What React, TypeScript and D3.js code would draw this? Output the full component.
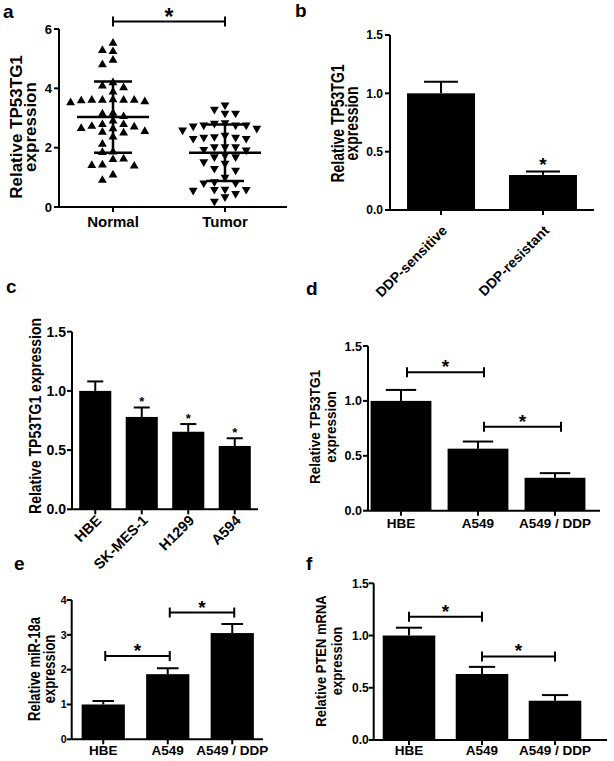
import * as d3 from "d3";

const FONT = "'Liberation Sans', Arial, Helvetica, sans-serif";

// ---- panel a : dot plot ----
const aGroups = ["Normal", "Tumor"];
const aNormal = [
  5.52, 5.28, 5.24, 4.95, 4.8, 4.19, 4.08, 4.02, 3.88, 3.62, 3.6, 3.6, 3.6, 3.6, 3.58, 3.55, 3.52,
  3.16, 3.14, 3.05, 2.9, 2.78, 2.78, 2.72, 2.7, 2.65, 2.64, 2.55, 2.52, 2.5, 2.36, 2.12, 1.86, 1.84,
  1.62, 1.6, 1.42, 1.4, 1.38, 1.08, 0.9,
];
const aTumor = [
  3.44, 3.29, 3.16, 3.16, 2.84, 2.82, 2.76, 2.76, 2.76, 2.73, 2.65, 2.59, 2.42, 2.37, 2.35, 2.35,
  2.31, 2.31, 2.03, 2.03, 2.03, 1.94, 1.92, 1.75, 1.69, 1.69, 1.52, 1.47, 1.3, 1.24, 1.0, 0.85, 0.81,
  0.81, 0.6, 0.59, 0.59, 0.56, 0.45, 0.34, 0.19,
];
const aMeans = [3.03, 1.83];
const aSDs = [1.2, 0.95];
const aTicks = [0, 2, 4, 6];
const aBracketLevel = 6.25;

// ---- panel b ----
const bCats = ["DDP-sensitive", "DDP-resistant"];
const bMeans = [1.0, 0.3];
const bErrs = [0.1, 0.03];
const bStars = [false, true];

// ---- panel c ----
const cCats = ["HBE", "SK-MES-1", "H1299", "A594"];
const cMeans = [1.0, 0.78, 0.655, 0.535];
const cErrs = [0.08, 0.08, 0.065, 0.065];
const cStars = [false, true, true, true];

// ---- panel d ----
const dCats = ["HBE", "A549", "A549 / DDP"];
const dMeans = [1.0, 0.565, 0.3];
const dErrs = [0.1, 0.065, 0.042];
const dPairs = [[0, 1], [1, 2]];
const dLevels = [1.26, 0.765];

// ---- panel e ----
const eCats = ["HBE", "A549", "A549 / DDP"];
const eMeans = [1.0, 1.87, 3.05];
const eErrs = [0.1, 0.17, 0.26];
const ePairs = [[0, 1], [1, 2]];
const eLevels = [2.39, 3.64];

// ---- panel f ----
const fCats = ["HBE", "A549", "A549 / DDP"];
const fMeans = [1.0, 0.632, 0.376];
const fErrs = [0.075, 0.068, 0.054];
const fPairs = [[0, 1], [1, 2]];
const fLevels = [1.18, 0.8];

const ticks15 = [0, 0.5, 1.0, 1.5];
const ticks4 = [0, 1, 2, 3, 4];

// rotated axis title; k stretches the glyph height (the source text looks wide)
function YLabel({ lines, bases, cy, size, k = 1 }: any) {
  return (
    <g>
      {lines.map((t: string, i: number) => (
        <text key={i} transform={`translate(${bases[i]},${cy}) rotate(-90) scale(1,${k})`} textAnchor="middle" fontSize={size}>
          {t}
        </text>
      ))}
    </g>
  );
}

function swarm(values: number[], cx: number, y: (v: number) => number, colW: number, minDy: number) {
  const placed: { col: number; py: number }[] = [];
  const order = values.map((_, i) => i).sort((a, b) => values[b] - values[a]);
  const out: { x: number; y: number }[] = new Array(values.length);
  for (const i of order) {
    const py = y(values[i]);
    for (let k = 0; k < 30; k++) {
      const col = k === 0 ? 0 : k % 2 ? -Math.ceil(k / 2) : Math.ceil(k / 2);
      if (!placed.some((p) => p.col === col && Math.abs(p.py - py) < minDy)) {
        placed.push({ col, py });
        out[i] = { x: cx + col * colW, y: py };
        break;
      }
    }
  }
  return out;
}

function ScatterPanel() {
  const axisX = 59, xEnd = 287, top = 29, bottom = 207;
  const y = d3.scaleLinear().domain([0, 6]).range([bottom, top]);
  const x = d3.scalePoint().domain(aGroups).range([57, 281]).padding(0.5);
  const tri = d3.symbol().type(d3.symbolTriangle).size(34)()!;
  const sets = [aNormal, aTumor];
  const by = y(aBracketLevel);
  const x0 = x(aGroups[0])!, x1 = x(aGroups[1])!;
  return (
    <g>
      <text x={3} y={18} fontSize={19}>a</text>
      <YLabel lines={["Relative TP53TG1", "expression"]} bases={[22, 36]} cy={127} size={17} />
      <line x1={axisX} x2={axisX} y1={bottom} y2={top} stroke="#000" strokeWidth={2} />
      <line x1={axisX} x2={xEnd} y1={bottom} y2={bottom} stroke="#000" strokeWidth={2} />
      {aTicks.map((t) => (
        <g key={t}>
          <line x1={axisX - 5} x2={axisX} y1={y(t)} y2={y(t)} stroke="#000" strokeWidth={2} />
          <text x={axisX - 7} y={y(t)} dy="0.36em" textAnchor="end" fontSize={13}>{t}</text>
        </g>
      ))}
      {aGroups.map((g) => (
        <g key={g}>
          <line x1={x(g)} x2={x(g)} y1={bottom} y2={bottom + 5} stroke="#000" strokeWidth={2} />
          <text x={x(g)} y={bottom + 20} textAnchor="middle" fontSize={15}>{g}</text>
        </g>
      ))}
      {sets.map((vals, gi) => {
        const cx = x(aGroups[gi])!;
        const pts = swarm(vals, cx, y, 10.6, 7.5);
        const m = aMeans[gi], s = aSDs[gi];
        return (
          <g key={gi}>
            {pts.map((p, i) => (
              <path key={i} d={tri} transform={`translate(${p.x},${p.y})${gi === 1 ? " rotate(180)" : ""}`} fill="#000" />
            ))}
            <line x1={cx - 36} x2={cx + 36} y1={y(m)} y2={y(m)} stroke="#000" strokeWidth={2.5} />
            <line x1={cx} x2={cx} y1={y(m - s)} y2={y(m + s)} stroke="#000" strokeWidth={2.5} />
            <line x1={cx - 19} x2={cx + 19} y1={y(m + s)} y2={y(m + s)} stroke="#000" strokeWidth={2.5} />
            <line x1={cx - 19} x2={cx + 19} y1={y(m - s)} y2={y(m - s)} stroke="#000" strokeWidth={2.5} />
          </g>
        );
      })}
      <line x1={x0} x2={x1} y1={by} y2={by} stroke="#000" strokeWidth={2} />
      <line x1={x0} x2={x0} y1={by - 5} y2={by + 5} stroke="#000" strokeWidth={2} />
      <line x1={x1} x2={x1} y1={by - 5} y2={by + 5} stroke="#000" strokeWidth={2} />
      <text x={(x0 + x1) / 2} y={by + 3} textAnchor="middle" fontSize={23}>*</text>
    </g>
  );
}

function BarPanel(p: any) {
  const y = d3.scaleLinear().domain([0, p.yMax]).range([p.bottom, p.top]);
  const x = d3.scaleBand<string>().domain(p.cats).range(p.band).paddingInner(p.padIn).paddingOuter(p.padOut);
  const bw = x.bandwidth();
  const cx = (c: string) => x(c)! + bw / 2;
  const fmt = p.fmt ? d3.format(p.fmt) : (v: number) => String(v);
  const cap = bw * 0.25;
  return (
    <g>
      <text x={p.letterX} y={p.letterY} fontSize={19}>{p.letter}</text>
      <YLabel lines={p.yLines} bases={p.yBases} cy={p.yCenter} size={p.ySize} k={p.yK} />
      {p.cats.map((c: string, i: number) => {
        const v = p.means[i], e = p.errs[i];
        return (
          <g key={c}>
            <rect x={x(c)} y={y(v)} width={bw} height={p.bottom - y(v)} fill="#000" />
            <line x1={cx(c)} x2={cx(c)} y1={y(v)} y2={y(v + e)} stroke="#000" strokeWidth={2} />
            <line x1={cx(c) - cap} x2={cx(c) + cap} y1={y(v + e)} y2={y(v + e)} stroke="#000" strokeWidth={2} />
            {p.stars && p.stars[i] && (
              <text x={cx(c)} y={y(v + e) - 1} textAnchor="middle" fontSize={p.starSize}>*</text>
            )}
            <line x1={cx(c)} x2={cx(c)} y1={p.bottom} y2={p.bottom + 5} stroke="#000" strokeWidth={2} />
            {p.rotate ? (
              <text transform={`translate(${cx(c) + p.ldx},${p.bottom + p.ldy}) rotate(-45)`} textAnchor="end" fontSize={p.labelSize}>
                {c}
              </text>
            ) : (
              <text x={cx(c)} y={p.bottom + p.ldy} textAnchor="middle" fontSize={p.labelSize}>{c}</text>
            )}
          </g>
        );
      })}
      <line x1={p.axisX} x2={p.axisX} y1={p.bottom} y2={p.top} stroke="#000" strokeWidth={2} />
      <line x1={p.axisX} x2={p.xEnd} y1={p.bottom} y2={p.bottom} stroke="#000" strokeWidth={2} />
      {p.ticks.map((t: number) => (
        <g key={t}>
          <line x1={p.axisX - 5} x2={p.axisX} y1={y(t)} y2={y(t)} stroke="#000" strokeWidth={2} />
          <text x={p.axisX - p.tickGap} y={y(t)} dy="0.36em" textAnchor="end" fontSize={p.tickSize}>{fmt(t)}</text>
        </g>
      ))}
      {p.pairs &&
        p.pairs.map((pr: number[], i: number) => {
          const xa = cx(p.cats[pr[0]]) + p.shift, xb = cx(p.cats[pr[1]]) + p.shift;
          const by = y(p.levels[i]);
          return (
            <g key={i}>
              <line x1={xa} x2={xb} y1={by} y2={by} stroke="#000" strokeWidth={2} />
              <line x1={xa} x2={xa} y1={by - 5} y2={by + 5} stroke="#000" strokeWidth={2} />
              <line x1={xb} x2={xb} y1={by - 5} y2={by + 5} stroke="#000" strokeWidth={2} />
              <text x={(xa + xb) / 2} y={by + 1} textAnchor="middle" fontSize={p.starSize}>*</text>
            </g>
          );
        })}
    </g>
  );
}

export default function App() {
  return (
    <svg width={614} height={761} style={{ position: "absolute", left: 0, top: 0, background: "#fff" }} fontFamily={FONT} fontWeight="bold">
      <rect width={614} height={761} fill="#fff" />
      <ScatterPanel />
      <BarPanel
        letter="b" letterX={295} letterY={17}
        cats={bCats} means={bMeans} errs={bErrs} stars={bStars} starSize={19}
        yMax={1.5} ticks={ticks15} fmt=".1f" tickSize={12} tickGap={7}
        top={35} bottom={210} axisX={390} xEnd={594} band={[390, 594]} padIn={0.333} padOut={0.167}
        rotate ldx={7} ldy={21.5} labelSize={14}
        yLines={["Relative TP53TG1", "expression"]} yBases={[344, 358]} yCenter={123.5} ySize={14} yK={1.25}
      />
      <BarPanel
        letter="c" letterX={6} letterY={293}
        cats={cCats} means={cMeans} errs={cErrs} stars={cStars} starSize={13}
        yMax={1.5} ticks={ticks15} fmt=".1f" tickSize={14} tickGap={6}
        top={331.7} bottom={509.3} axisX={72} xEnd={258} band={[72, 258]} padIn={0.31} padOut={0.155}
        rotate ldx={7} ldy={12} labelSize={14.5}
        yLines={["Relative TP53TG1 expression"]} yBases={[41]} yCenter={416} ySize={14} yK={1.2}
      />
      <BarPanel
        letter="d" letterX={306} letterY={295}
        cats={dCats} means={dMeans} errs={dErrs} starSize={19}
        yMax={1.5} ticks={ticks15} fmt=".1f" tickSize={12.5} tickGap={6}
        top={346} bottom={510.7} axisX={368} xEnd={600} band={[362.5, 593.5]} padIn={0.21} padOut={0.105}
        ldy={17} labelSize={13.5}
        pairs={dPairs} levels={dLevels} shift={6}
        yLines={["Relative TP53TG1", "expression"]} yBases={[320, 336]} yCenter={427} ySize={13.5} yK={1.1}
      />
      <BarPanel
        letter="e" letterX={14} letterY={570}
        cats={eCats} means={eMeans} errs={eErrs} starSize={19}
        yMax={4} ticks={ticks4} tickSize={10.5} tickGap={5}
        top={600} bottom={739.3} axisX={71.7} xEnd={263} band={[71, 264.5]} padIn={0.33} padOut={0.165}
        ldy={16} labelSize={13.5}
        pairs={ePairs} levels={eLevels} shift={2}
        yLines={["Relative miR-18a", "expression"]} yBases={[40, 55]} yCenter={669} ySize={13} yK={1.2}
      />
      <BarPanel
        letter="f" letterX={306} letterY={570}
        cats={fCats} means={fMeans} errs={fErrs} starSize={19}
        yMax={1.5} ticks={ticks15} fmt=".1f" tickSize={12} tickGap={5}
        top={583.3} bottom={740} axisX={373.7} xEnd={607} band={[372.5, 591.5]} padIn={0.28} padOut={0.14}
        ldy={15} labelSize={13.5}
        pairs={fPairs} levels={fLevels} shift={0}
        yLines={["Relative PTEN mRNA", "expression"]} yBases={[326, 342]} yCenter={661} ySize={13} yK={1.15}
      />
    </svg>
  );
}
